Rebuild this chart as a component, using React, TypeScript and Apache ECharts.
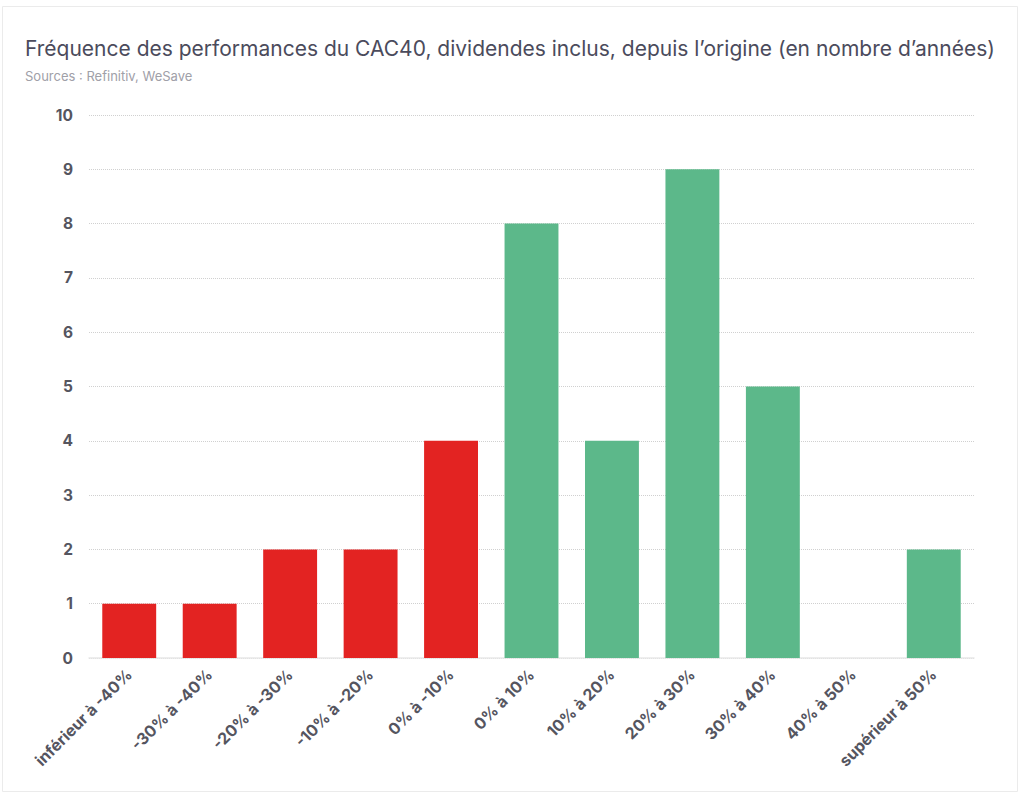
import { useEffect, useRef } from 'react';
import * as echarts from 'echarts';

const categories = [
  'inférieur à -40%',
  '-30% à -40%',
  '-20% à -30%',
  '-10% à -20%',
  '0% à -10%',
  '0% à 10%',
  '10% à 20%',
  '20% à 30%',
  '30% à 40%',
  '40% à 50%',
  'supérieur à 50%',
];

const years = [1, 1, 2, 2, 4, 8, 4, 9, 5, 0, 2];

// 5 premières tranches négatives en rouge, le reste en vert
const negativeCount = 5;

const RED = '#e32322';
const GREEN = '#5cb88a';
const FONT = 'Inter, "Noto Sans", sans-serif';

export default function App() {
  const chartRef = useRef<HTMLDivElement>(null);

  useEffect(() => {
    if (!chartRef.current) return;
    const chart = echarts.init(chartRef.current, null, { renderer: 'svg' });

    const option: echarts.EChartsOption = {
      animation: false,
      backgroundColor: '#ffffff',
      textStyle: { fontFamily: FONT },
      graphic: [
        {
          type: 'rect',
          shape: { x: 2.5, y: 6.5, width: 1015, height: 785 },
          style: { fill: 'none', stroke: '#ebebeb', lineWidth: 1 },
          silent: true,
        },
      ],
      title: {
        text: 'Fréquence des performances du CAC40, dividendes inclus, depuis l’origine (en nombre d’années)',
        subtext: 'Sources : Refinitiv, WeSave',
        left: 20,
        top: 33,
        itemGap: 10,
        textStyle: { color: '#4b4b5c', fontSize: 21, fontWeight: 'normal', fontFamily: FONT },
        subtextStyle: { color: '#a0a0a8', fontSize: 13, fontFamily: FONT },
      },
      grid: { left: 89, right: 50, top: 115, bottom: 139 },
      xAxis: {
        type: 'category',
        data: categories,
        axisLine: { lineStyle: { color: '#e8e8e8', width: 1.5 } },
        axisTick: { show: false },
        axisLabel: {
          interval: 0,
          rotate: 45,
          margin: 14,
          color: '#55555f',
          fontSize: 16,
          fontWeight: 'bold',
          fontFamily: FONT,
        },
      },
      yAxis: {
        type: 'value',
        min: 0,
        max: 10,
        interval: 1,
        axisLine: { show: false },
        axisTick: { show: false },
        axisLabel: {
          margin: 16,
          color: '#55555f',
          fontSize: 15.5,
          fontWeight: 'bold',
          fontFamily: FONT,
        },
        splitLine: { lineStyle: { color: '#d0d0d0', type: 'dotted', width: 1 } },
      },
      series: [
        {
          type: 'bar',
          barCategoryGap: '33%',
          data: years.map((v, i) => ({
            value: v,
            itemStyle: { color: i < negativeCount ? RED : GREEN },
          })),
        },
      ],
    };

    chart.setOption(option);
    return () => {
      chart.dispose();
    };
  }, []);

  return (
    <div style={{ position: 'fixed', left: 0, top: 0, width: 1024, height: 797 }}>
      <div ref={chartRef} style={{ width: 1024, height: 797 }} />
    </div>
  );
}
